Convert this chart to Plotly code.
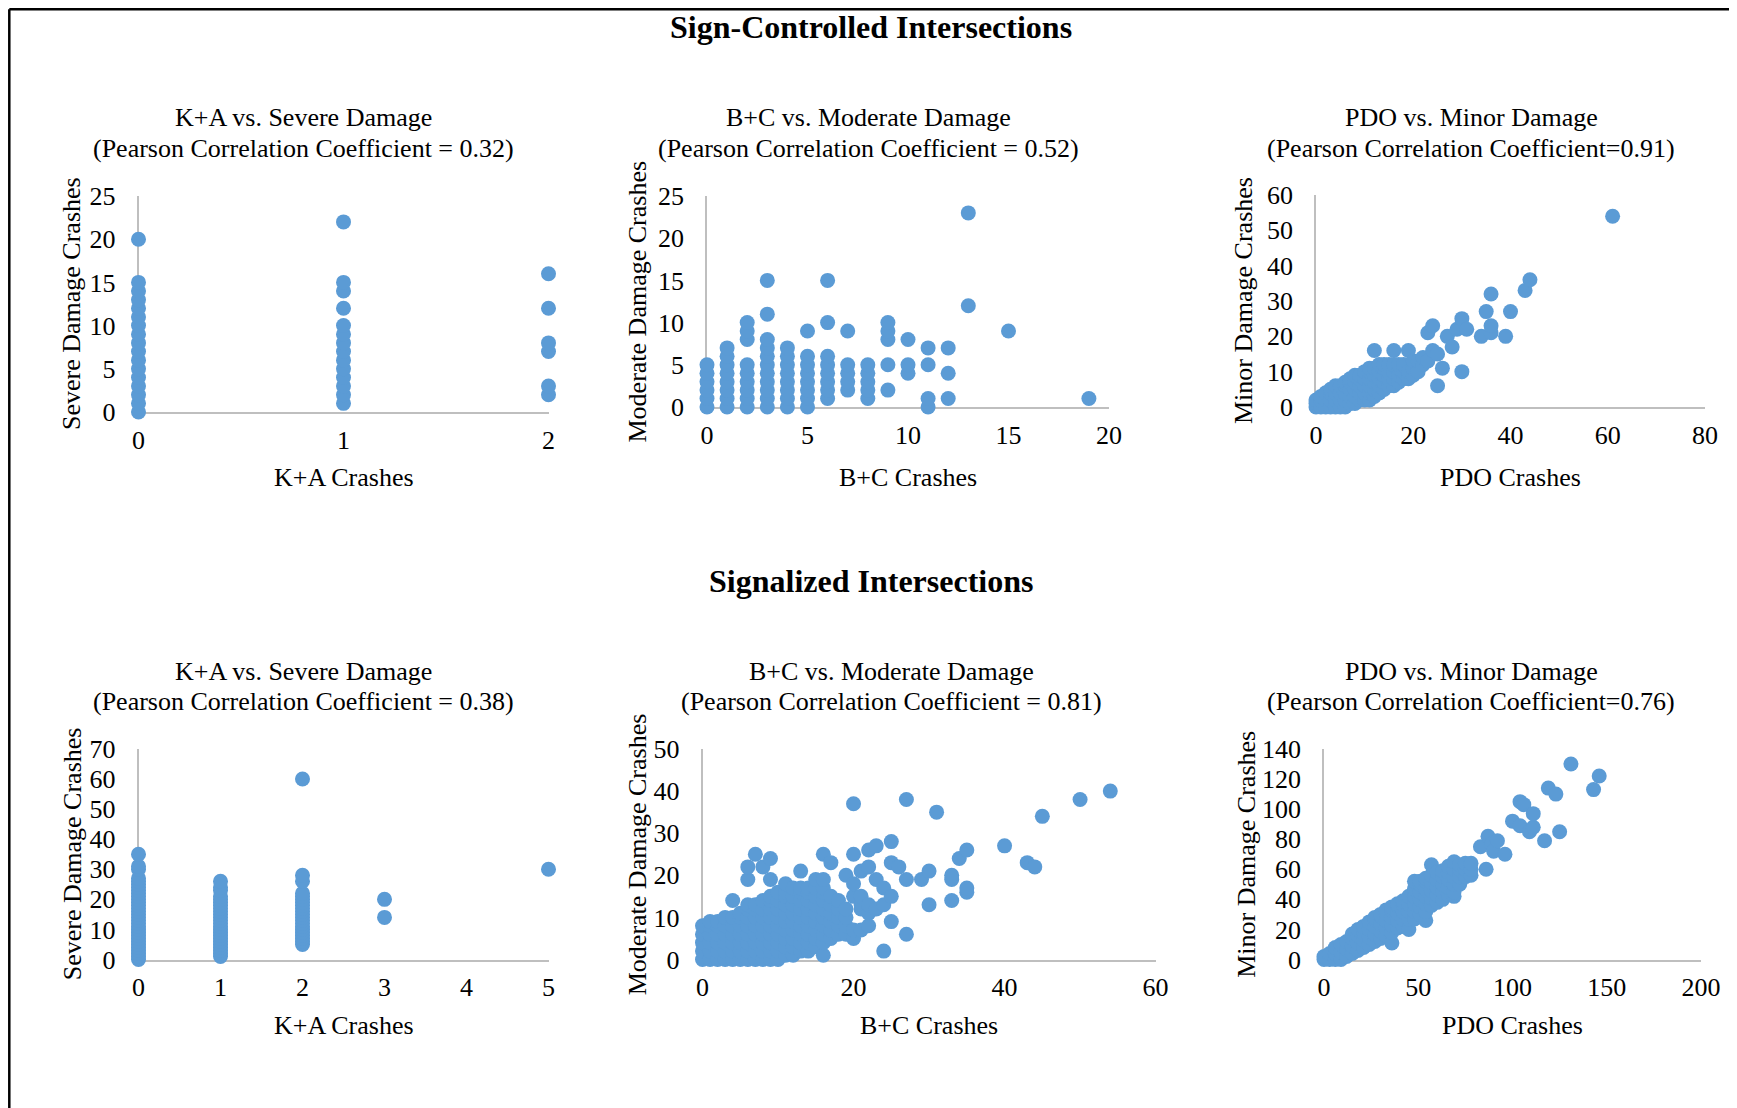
import plotly.graph_objects as go

PAGE_OFF = 8                      # browser body margin: page px of figure origin
W, H = 1737 - PAGE_OFF, 1108 - PAGE_OFF
BLUE = "#5B9BD5"
FONT = "Liberation Serif, Times New Roman, serif"

# ---------------- DATA (x value -> list of y values) ----------------
# Sign-Controlled: K+A vs Severe Damage
sc_ka_cols = {
    0: [0, 1, 2, 3, 4, 5, 6, 7, 8, 9, 10, 11, 12, 13, 14, 15, 20],
    1: [1, 2, 3, 4, 5, 6, 7, 8, 9, 10, 12, 14, 15, 22],
    2: [2, 3, 7, 8, 12, 16],
}
# Sign-Controlled: B+C vs Moderate Damage
sc_bc_cols = {
    0: [0, 1, 2, 3, 4, 5],
    1: [0, 1, 2, 3, 4, 5, 6, 7],
    2: [0, 1, 2, 3, 4, 5, 8, 9, 10],
    3: [0, 1, 2, 3, 4, 5, 6, 7, 8, 11, 15],
    4: [0, 1, 2, 3, 4, 5, 6, 7],
    5: [0, 1, 2, 3, 4, 5, 6, 9],
    6: [1, 2, 3, 4, 5, 6, 10, 15],
    7: [2, 3, 4, 5, 9],
    8: [1, 2, 3, 4, 5],
    9: [2, 5, 8, 9, 10],
    10: [4, 5, 8],
    11: [0, 1, 5, 7],
    12: [1, 4, 7],
    13: [12, 23],
    15: [9],
    19: [1],
}
# Sign-Controlled: PDO vs Minor Damage
sc_pdo_cols = {
    0: [0, 1, 2], 1: [0, 2, 3], 2: [0, 2, 4], 3: [0, 2, 4, 5],
    4: [0, 2, 4, 6], 5: [0, 2, 4, 6], 6: [0, 2, 4, 6, 7], 7: [1, 3, 5, 7, 8],
    8: [1, 3, 5, 7, 9], 9: [2, 4, 6, 8, 9], 10: [2, 4, 6, 8, 10],
    11: [2, 4, 6, 8, 10, 11], 12: [3, 5, 7, 9, 11, 16], 13: [4, 6, 8, 10, 12],
    14: [5, 7, 9, 11, 12], 15: [6, 8, 10, 12], 16: [6, 8, 10, 12, 16],
    17: [7, 9, 11, 12], 18: [8, 10, 12], 19: [8, 10, 16], 20: [9, 11, 13],
    21: [10, 13], 22: [12, 14], 23: [13, 21], 24: [16, 23], 25: [6, 15],
    26: [11], 27: [20], 28: [17], 29: [22], 30: [10, 25], 31: [22],
    34: [20], 35: [27], 36: [21, 23, 32], 39: [20], 40: [27], 43: [33],
    44: [36], 61: [54],
}
# Signalized: K+A vs Severe Damage
sig_ka_cols = {
    0: [0, 1, 2, 3, 4, 5, 6, 7, 8, 9, 10, 11, 12, 13, 14, 15, 16, 17, 18, 19,
        20, 21, 22, 23, 24, 25, 26, 27, 30, 31, 35],
    1: [1, 2, 3, 4, 5, 6, 7, 8, 9, 10, 11, 12, 13, 14, 15, 16, 17, 18, 19, 20,
        21, 23, 24, 26],
    2: [5, 6, 7, 8, 9, 10, 11, 12, 13, 14, 15, 16, 17, 18, 19, 20, 21, 22, 26,
        28, 60],
    3: [14, 20],
    5: [30],
}
# Signalized: B+C vs Moderate Damage
sig_bc_cols = {
    0: [0, 2, 4, 6, 8], 1: [0, 2, 4, 6, 8, 9], 2: [0, 2, 4, 6, 8, 9],
    3: [0, 2, 4, 6, 8, 10], 4: [0, 2, 4, 6, 8, 10, 14],
    5: [0, 2, 4, 6, 8, 10, 11], 6: [0, 2, 4, 6, 8, 10, 12, 13, 19, 22],
    7: [0, 2, 4, 6, 8, 10, 12, 13, 25], 8: [0, 2, 4, 6, 8, 10, 12, 14, 22],
    9: [0, 2, 4, 6, 8, 10, 12, 14, 15, 19, 24],
    10: [0, 2, 4, 6, 8, 10, 12, 14, 16], 11: [1, 3, 5, 7, 9, 11, 13, 15, 16, 18],
    12: [1, 3, 5, 7, 9, 11, 13, 15, 17], 13: [2, 4, 6, 8, 10, 12, 14, 16, 17, 21],
    14: [2, 4, 6, 8, 10, 12, 14, 16, 17], 15: [3, 5, 7, 9, 11, 13, 15, 17, 19],
    16: [1, 4, 6, 8, 10, 12, 14, 16, 17, 19, 25], 17: [5, 7, 9, 11, 13, 15, 23],
    18: [6, 8, 10, 12, 14], 19: [6, 8, 10, 12, 20], 20: [5, 7, 15, 18, 25, 37],
    21: [7, 12, 13, 15, 21], 22: [8, 11, 13, 22, 26], 23: [12, 19, 27],
    24: [2, 13, 17], 25: [9, 15, 23, 28], 26: [22], 27: [6, 19, 38], 29: [19],
    30: [13, 21], 31: [35], 33: [14, 19, 20], 34: [24], 35: [16, 17, 26],
    40: [27], 43: [23], 44: [22], 45: [34], 50: [38], 54: [40],
}
# Signalized: PDO vs Minor Damage
sig_pdo_cols = {
    0: [0, 2], 3: [0, 4], 6: [0, 4, 8], 9: [0, 5, 10], 12: [2, 7, 12],
    15: [4, 9, 14, 17], 18: [6, 11, 16, 20], 21: [8, 13, 18, 22],
    24: [10, 15, 20, 25], 27: [12, 17, 22, 27, 28], 30: [14, 19, 24, 29, 30],
    33: [16, 21, 26, 31, 33], 36: [11, 18, 23, 28, 33, 35],
    39: [21, 26, 31, 36, 37], 42: [22, 27, 32, 37, 39], 45: [20, 27, 32, 37, 42],
    48: [27, 32, 37, 42, 47, 52], 51: [30, 35, 40, 45, 50, 52],
    54: [26, 32, 37, 42, 47, 52, 54], 57: [36, 41, 46, 51, 56, 63],
    60: [38, 43, 48, 53, 58], 63: [40, 45, 50, 55, 59], 66: [43, 48, 53, 58, 62],
    69: [42, 45, 50, 55, 60, 65], 72: [50, 55, 60, 63], 75: [55, 60, 64],
    78: [56, 60, 64], 83: [75], 86: [60], 87: [82], 89: [77], 90: [72],
    92: [79], 96: [70], 100: [92], 104: [89, 105], 106: [103], 109: [85],
    111: [88, 97], 117: [79], 119: [114], 123: [110], 125: [85], 131: [130],
    143: [113], 146: [122],
}

main_titles = ["Sign-Controlled Intersections", "Signalized Intersections"]
title_line1 = ["K+A vs. Severe Damage", "B+C vs. Moderate Damage", "PDO vs. Minor Damage"] * 2
title_line2 = [
    "(Pearson Correlation Coefficient = 0.32)",
    "(Pearson Correlation Coefficient = 0.52)",
    "(Pearson Correlation Coefficient=0.91)",
    "(Pearson Correlation Coefficient = 0.38)",
    "(Pearson Correlation Coefficient = 0.81)",
    "(Pearson Correlation Coefficient=0.76)",
]
x_titles = ["K+A Crashes", "B+C Crashes", "PDO Crashes"] * 2
y_titles = ["Severe Damage Crashes", "Moderate Damage Crashes", "Minor Damage Crashes"] * 2
x_ranges = [(0, 2), (0, 20), (0, 80), (0, 5), (0, 60), (0, 200)]
x_dticks = [1, 5, 20, 1, 20, 50]
y_ranges = [(0, 25), (0, 25), (0, 60), (0, 70), (0, 50), (0, 140)]
y_dticks = [5, 5, 10, 10, 10, 20]
data_cols = [sc_ka_cols, sc_bc_cols, sc_pdo_cols, sig_ka_cols, sig_bc_cols, sig_pdo_cols]

# ---------------- LAYOUT (page pixel geometry) ----------------
plot_px = [(138.5, 548.5), (707, 1109), (1316, 1705),
           (138.5, 548.5), (702.5, 1155.6), (1324, 1701)]
plot_py = [(196, 412), (196, 407), (195, 407),
           (749, 959.5), (749, 959.5), (749, 959.5)]
title_cx = [303.6, 868.7, 1471.4, 303.6, 891.4, 1471.4]
title_cy = [(117.5, 148.5)] * 3 + [(671.5, 701.4)] * 3
ytitle_cx = [72, 637, 1243, 72, 637, 1246.5]
xtitle_cy = [477.5] * 3 + [1025] * 3
main_cy = [26.6, 580.6]
main_cx = 871


def flatten(cols):
    xs, ys = [], []
    for xv, yl in cols.items():
        for yv in yl:
            xs.append(xv)
            ys.append(yv)
    return xs, ys


def px(x):
    return (x - PAGE_OFF) / W


def py(y):
    return 1 - (y - PAGE_OFF) / H


fig = go.Figure()
layout = dict(
    width=W, height=H, margin=dict(l=0, r=0, t=0, b=0, autoexpand=False),
    paper_bgcolor="white", plot_bgcolor="white", showlegend=False,
    font=dict(family=FONT, size=26, color="black"),
)
annotations = []
for i in range(6):
    n = "" if i == 0 else str(i + 1)
    xs, ys = flatten(data_cols[i])
    fig.add_trace(go.Scatter(
        x=xs, y=ys, mode="markers", xaxis="x" + n, yaxis="y" + n,
        marker=dict(size=15, color=BLUE, line=dict(width=0)),
        cliponaxis=False, hoverinfo="x+y",
    ))
    x0, x1 = plot_px[i]
    y0, y1 = plot_py[i]
    layout["xaxis" + n] = dict(
        domain=[px(x0), px(x1)], range=list(x_ranges[i]), dtick=x_dticks[i],
        tick0=0, showgrid=False, zeroline=False, showline=True, automargin=False,
        linecolor="#BFBFBF", linewidth=1.5, ticks="outside", ticklen=4,
        tickcolor="rgba(0,0,0,0)", tickfont=dict(family=FONT, size=26),
        anchor="y" + n, layer="below traces", fixedrange=True,
    )
    layout["yaxis" + n] = dict(
        domain=[py(y1), py(y0)], range=list(y_ranges[i]), dtick=y_dticks[i],
        tick0=0, showgrid=False, zeroline=False, showline=True, automargin=False,
        linecolor="#BFBFBF", linewidth=1.5, ticks="outside", ticklen=16,
        tickcolor="rgba(0,0,0,0)", tickfont=dict(family=FONT, size=26),
        anchor="x" + n, layer="below traces", fixedrange=True,
    )
    common = dict(xref="paper", yref="paper", showarrow=False,
                  xanchor="center", yanchor="middle", font=dict(family=FONT, size=26))
    annotations.append(dict(text=title_line1[i], x=px(title_cx[i]), y=py(title_cy[i][0]), **common))
    annotations.append(dict(text=title_line2[i], x=px(title_cx[i]), y=py(title_cy[i][1]), **common))
    annotations.append(dict(text=x_titles[i], x=px((x0 + x1) / 2), y=py(xtitle_cy[i]), **common))
    annotations.append(dict(text=y_titles[i], x=px(ytitle_cx[i]), y=py((y0 + y1) / 2),
                            textangle=-90, **common))

for k in range(2):
    annotations.append(dict(text="<b>" + main_titles[k] + "</b>", x=px(main_cx), y=py(main_cy[k]),
                            xref="paper", yref="paper", showarrow=False,
                            xanchor="center", yanchor="middle",
                            font=dict(family=FONT, size=32)))

layout["annotations"] = annotations
frame = dict(color="black", width=2.5)
layout["shapes"] = [
    dict(type="line", xref="paper", yref="paper", x0=px(9.3), x1=px(9.3), y0=py(9.3), y1=py(1120), line=frame),
    dict(type="line", xref="paper", yref="paper", x0=px(9.3), x1=px(1731), y0=py(9.3), y1=py(9.3), line=frame),
    dict(type="line", xref="paper", yref="paper", x0=px(1731), x1=px(1731), y0=py(9.3), y1=py(1120), line=frame),
]
fig.update_layout(**layout)
fig.write_html("out.html")
